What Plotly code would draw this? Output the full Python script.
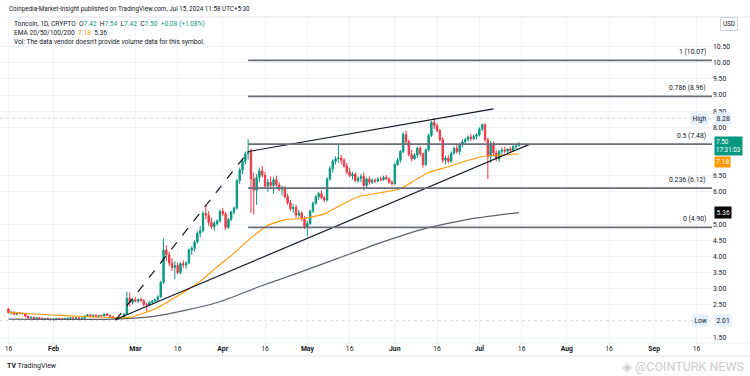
import plotly.graph_objects as go
import pandas as pd

# ---------------- data ----------------
start_date = "2024-01-16"   # first visible daily candle; one candle per day to 2024-07-15

opens = [
    # Jan 16-31
    2.38, 2.26, 2.28, 2.21, 2.25, 2.23, 2.24, 2.15, 2.10, 2.12, 2.08, 2.10, 2.09, 2.07, 2.08, 2.06,
    # Feb
    2.05, 2.06, 2.08, 2.07, 2.06, 2.08, 2.09, 2.10, 2.09, 2.10, 2.08, 2.09, 2.16, 2.19, 2.15, 2.18,
    2.14, 2.17, 2.16, 2.22, 2.18, 2.14, 2.10, 2.07, 2.09, 2.10, 2.22, 2.70, 2.58,
    # Mar
    2.66, 2.62, 2.67, 2.63, 2.52, 2.50, 2.58, 2.62, 2.66, 2.75, 3.20, 4.20, 4.05, 3.80, 3.66, 3.72,
    3.50, 3.78, 3.74, 3.80, 4.20, 4.25, 4.45, 4.72, 4.80, 5.34, 5.28, 5.05, 4.92, 5.02, 5.10,
    # Apr
    5.40, 5.32, 4.90, 5.15, 5.38, 5.50, 6.35, 6.68, 6.95, 7.18, 7.25, 6.40, 6.05, 6.45, 6.65,
    6.52, 6.18, 6.30, 6.20, 6.38, 6.22, 6.08, 6.12, 5.85, 5.66, 5.48, 5.52, 5.28, 5.35, 5.18,
    # May
    4.92, 5.02, 5.40, 5.65, 5.85, 5.95, 5.82, 5.75, 6.40, 6.72, 6.95, 7.02, 7.05, 6.98, 6.80, 6.62,
    6.50, 6.55, 6.35, 6.42, 6.48, 6.20, 6.40, 6.30, 6.36, 6.33, 6.40, 6.38, 6.45, 6.40, 6.30,
    # Jun
    6.25, 6.85, 6.98, 7.25, 7.78, 7.55, 7.15, 7.02, 7.14, 7.35, 7.18, 6.85, 7.30, 7.75, 8.15,
    8.05, 7.90, 7.62, 6.98, 7.05, 6.95, 7.20, 7.35, 7.25, 7.45, 7.55, 7.62, 7.70, 7.65, 7.72,
    # Jul 1-15
    7.76, 7.95, 8.08, 7.62, 7.10, 7.50, 7.20, 7.02, 7.25, 7.30, 7.26, 7.33, 7.28, 7.40, 7.42,
]
highs = [
    2.40, 2.30, 2.30, 2.27, 2.28, 2.26, 2.25, 2.17, 2.14, 2.13, 2.12, 2.12, 2.11, 2.10, 2.11, 2.09,
    2.08, 2.09, 2.10, 2.09, 2.10, 2.11, 2.12, 2.13, 2.12, 2.12, 2.11, 2.18, 2.22, 2.22, 2.20, 2.21,
    2.19, 2.20, 2.24, 2.25, 2.20, 2.16, 2.12, 2.11, 2.12, 2.24, 2.91, 2.88, 2.72,
    2.75, 2.70, 2.72, 2.68, 2.58, 2.62, 2.66, 2.70, 2.80, 3.25, 4.56, 4.35, 4.15, 3.95, 3.85, 3.80,
    3.82, 3.88, 3.85, 4.25, 4.32, 4.50, 4.78, 4.95, 5.40, 5.60, 5.40, 5.20, 5.10, 5.15, 5.45,
    5.50, 5.38, 5.20, 5.42, 5.55, 6.40, 6.75, 7.05, 7.25, 7.63, 7.35, 6.60, 6.55, 6.75, 6.80,
    6.62, 6.40, 6.48, 6.45, 6.50, 6.30, 6.20, 6.18, 5.95, 5.75, 5.62, 5.60, 5.45, 5.40, 5.25,
    5.10, 5.45, 5.70, 5.90, 6.00, 6.05, 5.88, 6.45, 6.80, 7.00, 7.10, 7.45, 7.15, 7.05, 6.90, 6.75,
    6.62, 6.60, 6.48, 6.55, 6.60, 6.45, 6.48, 6.42, 6.42, 6.45, 6.48, 6.50, 6.52, 6.45, 6.36,
    6.90, 7.05, 7.30, 7.85, 7.90, 7.62, 7.30, 7.20, 7.40, 7.42, 7.22, 7.35, 7.80, 8.20, 8.28,
    8.12, 7.95, 7.70, 7.12, 7.15, 7.25, 7.40, 7.45, 7.50, 7.62, 7.68, 7.75, 7.80, 7.78, 7.82,
    8.00, 8.12, 8.12, 7.68, 7.58, 7.55, 7.28, 7.30, 7.38, 7.40, 7.36, 7.40, 7.45, 7.48, 7.54,
]
lows = [
    2.24, 2.20, 2.18, 2.18, 2.21, 2.20, 2.12, 2.05, 2.07, 2.06, 2.05, 2.07, 2.05, 2.04, 2.05, 2.02,
    2.01, 2.04, 2.05, 2.04, 2.04, 2.06, 2.06, 2.07, 2.06, 2.07, 2.05, 2.08, 2.12, 2.14, 2.12, 2.13,
    2.12, 2.14, 2.15, 2.16, 2.12, 2.08, 2.05, 2.05, 2.06, 2.09, 2.20, 2.45, 2.52,
    2.58, 2.55, 2.60, 2.45, 2.30, 2.46, 2.54, 2.58, 2.62, 2.72, 3.15, 3.85, 3.70, 3.55, 3.30, 3.45,
    3.45, 3.65, 3.62, 3.76, 4.05, 4.15, 4.40, 4.60, 4.75, 5.15, 4.95, 4.85, 4.80, 4.95, 5.05,
    5.25, 4.82, 4.85, 5.10, 5.30, 5.45, 6.25, 6.55, 6.85, 7.00, 5.35, 5.30, 5.60, 6.30, 6.45,
    6.10, 6.00, 6.12, 5.95, 6.15, 6.02, 5.90, 5.80, 5.60, 5.40, 5.35, 5.20, 5.20, 5.10, 4.85,
    4.62, 4.98, 5.35, 5.60, 5.75, 5.78, 5.68, 5.70, 6.35, 6.60, 6.85, 6.90, 6.85, 6.75, 6.55, 6.45,
    6.38, 6.30, 6.28, 6.30, 6.05, 6.12, 6.22, 6.25, 6.28, 6.30, 6.32, 6.34, 6.36, 6.26, 6.20,
    6.22, 6.80, 6.90, 7.20, 7.45, 7.10, 6.95, 6.98, 7.05, 7.10, 6.75, 6.80, 7.25, 7.70, 7.95,
    7.85, 7.55, 6.90, 6.85, 6.88, 6.90, 7.15, 7.18, 7.15, 7.38, 7.45, 7.55, 7.58, 7.60, 7.62,
    7.72, 7.88, 7.55, 6.40, 6.90, 7.10, 6.95, 6.92, 7.15, 7.20, 7.18, 7.22, 7.25, 7.32, 7.42,
]
closes = [
    2.26, 2.28, 2.21, 2.25, 2.23, 2.24, 2.15, 2.10, 2.12, 2.08, 2.10, 2.09, 2.07, 2.08, 2.06, 2.05,
    2.06, 2.08, 2.07, 2.06, 2.08, 2.09, 2.10, 2.09, 2.10, 2.08, 2.09, 2.16, 2.19, 2.15, 2.18, 2.14,
    2.17, 2.16, 2.22, 2.18, 2.14, 2.10, 2.07, 2.09, 2.10, 2.22, 2.70, 2.58, 2.66,
    2.62, 2.67, 2.63, 2.52, 2.50, 2.58, 2.62, 2.66, 2.75, 3.20, 4.20, 4.05, 3.80, 3.66, 3.72, 3.50,
    3.78, 3.74, 3.80, 4.20, 4.25, 4.45, 4.72, 4.80, 5.34, 5.28, 5.05, 4.92, 5.02, 5.10, 5.40,
    5.32, 4.90, 5.15, 5.38, 5.50, 6.35, 6.68, 6.95, 7.18, 7.25, 6.40, 6.05, 6.45, 6.65, 6.52,
    6.18, 6.30, 6.20, 6.38, 6.22, 6.08, 6.12, 5.85, 5.66, 5.48, 5.52, 5.28, 5.35, 5.18, 4.92,
    5.02, 5.40, 5.65, 5.85, 5.95, 5.82, 5.75, 6.40, 6.72, 6.95, 7.02, 7.05, 6.98, 6.80, 6.62, 6.50,
    6.55, 6.35, 6.42, 6.48, 6.20, 6.40, 6.30, 6.36, 6.33, 6.40, 6.38, 6.45, 6.40, 6.30, 6.25,
    6.85, 6.98, 7.25, 7.78, 7.55, 7.15, 7.02, 7.14, 7.35, 7.18, 6.85, 7.30, 7.75, 8.15, 8.05,
    7.90, 7.62, 6.98, 7.05, 6.95, 7.20, 7.35, 7.25, 7.45, 7.55, 7.62, 7.70, 7.65, 7.72, 7.76,
    7.95, 8.08, 7.62, 7.10, 7.50, 7.20, 7.02, 7.25, 7.30, 7.26, 7.33, 7.28, 7.40, 7.42, 7.50,
]

# EMA lines
ema_orange_dates = ["2024-01-16", "2024-01-25", "2024-02-05", "2024-02-15", "2024-02-24", "2024-02-28",
                    "2024-03-03", "2024-03-09", "2024-03-16", "2024-03-21", "2024-03-25", "2024-03-30",
                    "2024-04-05", "2024-04-10", "2024-04-17", "2024-04-24", "2024-04-30", "2024-05-07",
                    "2024-05-12", "2024-05-19", "2024-05-26", "2024-06-03", "2024-06-07", "2024-06-13",
                    "2024-06-20", "2024-06-27", "2024-07-04", "2024-07-09", "2024-07-15"]
ema_orange_values = [2.27, 2.22, 2.17, 2.13, 2.10, 2.12, 2.22, 2.42, 2.78, 3.05, 3.30, 3.68,
                     4.10, 4.50, 4.97, 5.15, 5.18, 5.32, 5.55, 5.85, 5.96, 6.10, 6.30, 6.60,
                     6.78, 6.98, 7.12, 7.14, 7.18]
ema_gray_dates = ["2024-01-16", "2024-02-22", "2024-03-07", "2024-03-19", "2024-03-31", "2024-04-14",
                  "2024-04-28", "2024-05-12", "2024-05-26", "2024-06-11", "2024-06-27", "2024-07-15"]
ema_gray_values = [2.06, 2.06, 2.14, 2.34, 2.60, 3.07, 3.50, 3.95, 4.40, 4.85, 5.15, 5.36]

# drawn trend lines
upper_line_dates = ["2024-04-10", "2024-07-06"]
upper_line_values = [7.25, 8.57]
lower_line_dates = ["2024-02-23", "2024-07-19"]
lower_line_values = [2.05, 7.48]
dashed_line_dates = ["2024-02-23", "2024-04-10"]
dashed_line_values = [2.03, 7.24]

# Fibonacci retracement
fib_start = "2024-04-10"
fib_ratios = ["1", "0.786", "0.5", "0.236", "0"]
fib_values = [10.07, 8.96, 7.48, 6.12, 4.90]

# axis ticks
x_tick_dates = ["2024-01-16", "2024-02-01", "2024-03-01", "2024-03-16", "2024-04-01", "2024-04-16",
                "2024-05-01", "2024-05-16", "2024-06-01", "2024-06-16", "2024-07-01", "2024-07-16",
                "2024-08-01", "2024-08-16", "2024-09-01", "2024-09-16"]
x_tick_labels = ["16", "<b>Feb</b>", "<b>Mar</b>", "16", "<b>Apr</b>", "16", "<b>May</b>", "16", "<b>Jun</b>",
                 "16", "<b>Jul</b>", "16", "<b>Aug</b>", "16", "<b>Sep</b>", "16"]
y_tick_values = [1.5, 2.5, 3.0, 3.5, 4.0, 4.5, 5.0, 6.0, 6.5, 8.0, 8.5, 9.0, 9.5, 10.0, 10.5]

last_price = 7.50
ema_orange_last = 7.18
ema_gray_last = 5.36
high_value = 8.28
low_value = 2.01

# ---------------- figure ----------------
assert len(opens) == len(highs) == len(lows) == len(closes)
dates = pd.date_range(start_date, periods=len(opens), freq="D")

UP = "#089981"
DOWN = "#F23645"
ORANGE = "#FF9800"
INK = "#131722"
FONT = "Roboto, Arial, sans-serif"

W, H = 750, 376
ML, MR, MT, MB = 0, 38, 17, 33
PW, PH = W - ML - MR, H - MT - MB


def px(x):
    return (x - ML) / PW


def py(y):
    return (H - MB - y) / PH


fig = go.Figure()
fig.add_trace(go.Candlestick(
    x=dates, open=opens, high=highs, low=lows, close=closes,
    increasing=dict(line=dict(color=UP, width=1), fillcolor=UP),
    decreasing=dict(line=dict(color=DOWN, width=1), fillcolor=DOWN),
    whiskerwidth=0, showlegend=False, hoverinfo="skip"))

fig.add_trace(go.Scatter(x=pd.to_datetime(ema_gray_dates), y=ema_gray_values, mode="lines",
                         line=dict(color="#5d606b", width=1.2, shape="spline", smoothing=0.5),
                         showlegend=False, hoverinfo="skip"))
fig.add_trace(go.Scatter(x=pd.to_datetime(ema_orange_dates), y=ema_orange_values, mode="lines",
                         line=dict(color=ORANGE, width=1.1, shape="spline", smoothing=0.5),
                         showlegend=False, hoverinfo="skip"))
for d, v, dash in [(upper_line_dates, upper_line_values, "solid"),
                   (lower_line_dates, lower_line_values, "solid"),
                   (dashed_line_dates, dashed_line_values, "dash")]:
    fig.add_trace(go.Scatter(x=pd.to_datetime(d), y=v, mode="lines",
                             line=dict(color=INK, width=1.2, dash=dash),
                             showlegend=False, hoverinfo="skip"))

x_range = ["2024-01-13", "2024-09-21 12:00"]

shapes = []
for val in fib_values:
    shapes.append(dict(type="line", xref="x", yref="y", x0=fib_start, x1=x_range[1], y0=val, y1=val,
                       line=dict(color="#6a6d78", width=1.8), layer="above"))
for val in (high_value, low_value):
    shapes.append(dict(type="line", xref="paper", yref="y", x0=0, x1=1, y0=val, y1=val,
                       line=dict(color="#c9ccd6", width=0.8, dash="dot"), layer="below"))
# panel borders
shapes.append(dict(type="line", xref="paper", yref="paper", x0=px(7), x1=W / PW, y0=1, y1=1,
                   line=dict(color="#e0e3eb", width=1)))
shapes.append(dict(type="line", xref="paper", yref="paper", x0=0, x1=W / PW, y0=0, y1=0,
                   line=dict(color="#eef0f4", width=1)))
shapes.append(dict(type="line", xref="paper", yref="paper", x0=0, x1=W / PW, y0=py(356), y1=py(356),
                   line=dict(color="#e0e3eb", width=1)))

annotations = []


def add_text(text, x, y, size=6.6, color=INK, xanchor="left", yanchor="middle", **kw):
    annotations.append(dict(text=text, x=x, y=y, xref=kw.pop("xref", "paper"), yref=kw.pop("yref", "paper"),
                            showarrow=False, xanchor=xanchor, yanchor=yanchor,
                            font=dict(family=FONT, size=size, color=color), **kw))


add_text("Coinpedia-Market-Insight published on TradingView.com, Jul 15, 2024 11:58 UTC+5:30", px(7), py(9), size=6.3)
g = lambda s: f"<span style='color:{UP}'>{s}</span>"
add_text(f"Toncoin, 1D, CRYPTO  O{g('7.42')}  H{g('7.54')}  L{g('7.42')}  C{g('7.50')}  {g('+0.08 (+1.08%)')}",
         px(12), py(24), size=6.6)
add_text(f"EMA 20/50/100/200  <span style='color:{ORANGE}'>{ema_orange_last:.2f}</span>  {ema_gray_last:.2f}",
         px(12), py(33), size=6.6)
add_text("Vol: The data vendor doesn't provide volume data for this symbol.", px(12), py(42), size=6.6)

for r, v in zip(fib_ratios, fib_values):
    add_text(f"{r} ({v:.2f})", px(708), v, size=6.8, xanchor="right", yanchor="bottom", yref="y", yshift=2)

# right-axis boxes
add_text("USD", px(729), py(24), size=6.3, xanchor="center", bgcolor="white", bordercolor="#d1d4dc",
         borderwidth=1, borderpad=2)
for lab, v in (("High", high_value), ("Low", low_value)):
    add_text(lab, px(709), v, size=6.6, xanchor="right", yref="y", bgcolor="#e3effd", borderpad=1.5)
    add_text(f"{v:.2f}", px(714), v, size=6.8, yref="y", bgcolor="#e3effd", borderpad=1.5)
add_text(f"{last_price:.2f}<br>17:31:03", px(714), last_price, size=6.3, color="white", yref="y",
         yanchor="top", yshift=7, bgcolor=UP, borderpad=1, align="left")
add_text(f"{ema_orange_last:.2f}", px(714), ema_orange_last, size=6.8, color="white", yref="y", yshift=-8,
         bgcolor=ORANGE, borderpad=1)
add_text(f"{ema_gray_last:.2f}", px(714), ema_gray_last, size=6.8, color="white", yref="y",
         bgcolor="#000000", borderpad=1.5)

# footer
add_text("<b>TV</b> TradingView", px(5), py(366), size=7)
add_text("◈ @COINTURK NEWS", px(746), py(366), size=12.5, color="#cdcdcd", xanchor="right")

fig.update_layout(
    width=W, height=H, margin=dict(l=ML, r=MR, t=MT, b=MB),
    paper_bgcolor="white", plot_bgcolor="white",
    font=dict(family=FONT, size=7, color=INK),
    showlegend=False, shapes=shapes, annotations=annotations,
    xaxis=dict(type="date", range=x_range, rangeslider=dict(visible=False),
               tickvals=pd.to_datetime(x_tick_dates), ticktext=x_tick_labels,
               showgrid=True, gridcolor="#f0f3fa", gridwidth=1, zeroline=False, showline=False,
               ticks="", tickfont=dict(size=6.8, color=INK)),
    yaxis=dict(side="right", range=[1.322, 11.415], tickvals=y_tick_values,
               ticktext=[f"{v:.2f}" for v in y_tick_values],
               showgrid=True, gridcolor="#f0f3fa", gridwidth=1, zeroline=False, showline=False,
               ticks="", tickfont=dict(size=6.8, color=INK)),
)

fig.write_html("out.html", config={"displayModeBar": False},
               post_script="document.body.style.margin='0';document.body.style.padding='0';")
